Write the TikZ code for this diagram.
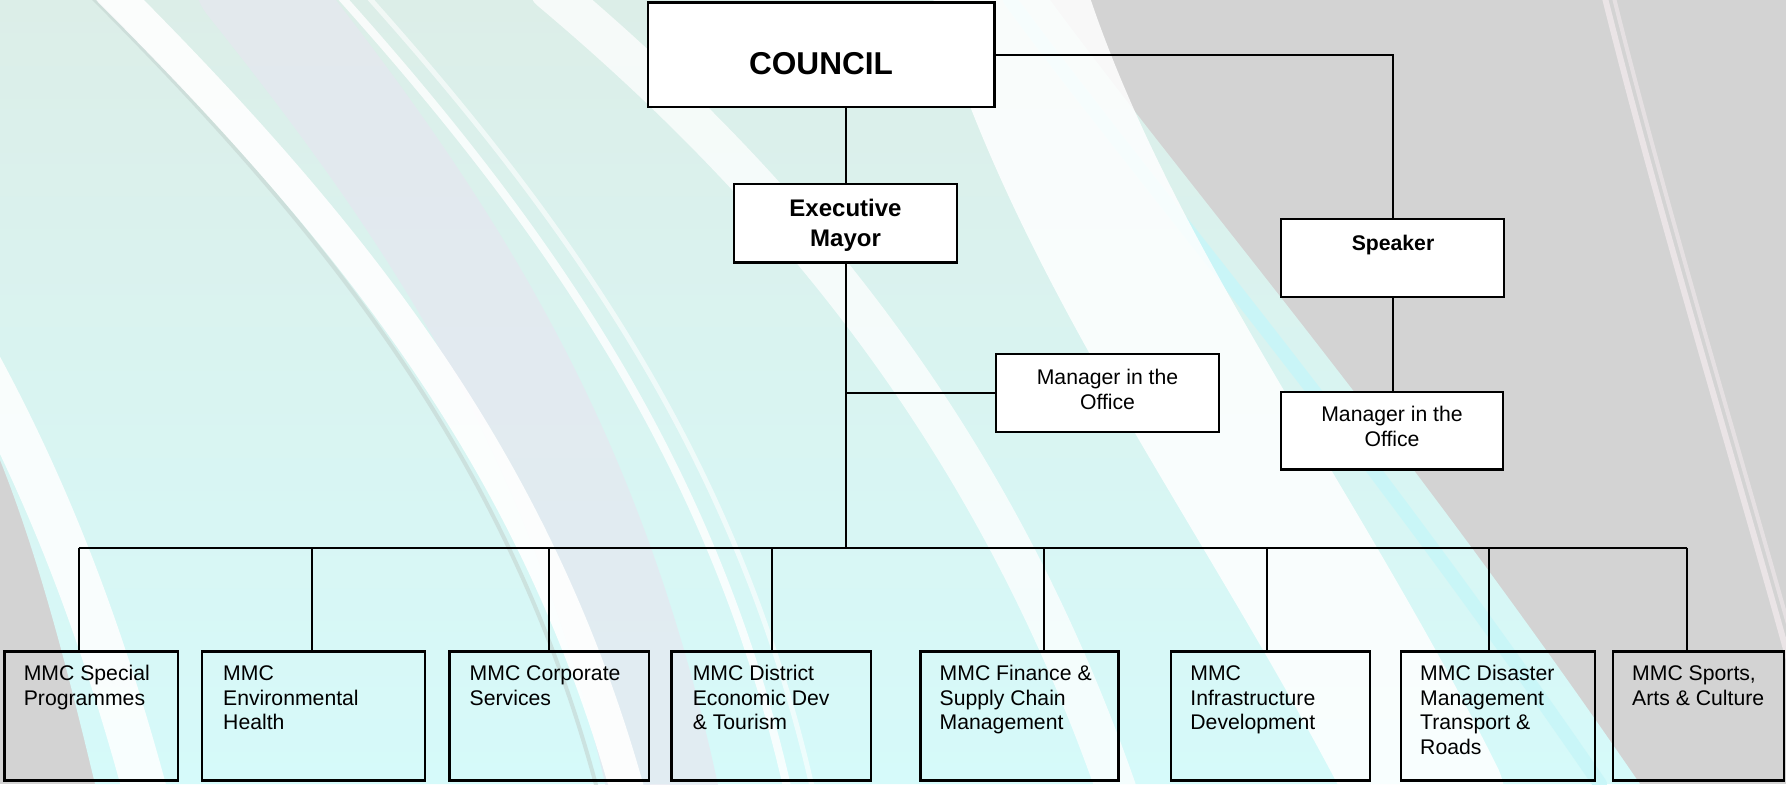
\documentclass[tikz,border=0pt]{standalone}
\usepackage{fontspec}
\setmainfont{Liberation Sans}
\definecolor{bggrey}{RGB}{211,211,211}
\definecolor{bgmint}{RGB}{220,238,232}
\definecolor{bgcyan}{RGB}{214,250,250}
\definecolor{bgbright}{RGB}{200,246,248}
\definecolor{bglav}{RGB}{230,231,240}
\definecolor{bgshadow}{RGB}{196,212,208}
\definecolor{bgpink}{RGB}{234,228,230}
\begin{document}
\begin{tikzpicture}[x=0.5pt,y=-0.5pt,
  topbox/.style={draw=black, line width=1.2pt, fill=white, inner sep=0pt},
  unitbox/.style={draw=black, line width=1.2pt, inner sep=0pt, minimum height=64.5pt},
  link/.style={draw=black, line width=1pt},
  bigtext/.style={anchor=base, inner sep=0pt, font=\fontsize{15.8}{19}\selectfont\bfseries},
  headtext/.style={anchor=base, inner sep=0pt, align=center, font=\fontsize{12}{15}\selectfont\bfseries},
  boldtext/.style={anchor=base, inner sep=0pt, align=center, font=\fontsize{10.6}{12.5}\selectfont\bfseries},
  midtext/.style={anchor=base, inner sep=0pt, align=center, font=\fontsize{10.6}{12.5}\selectfont},
  unittext/.style={anchor=north west, inner sep=0pt, align=left, font=\fontsize{10.6}{12.25}\selectfont},
  streak/.style={line cap=round, line join=round}
]
\useasboundingbox (0,0) rectangle (1786,784);

% ---------- background sweep ----------
\begin{scope}
  \clip (0,0) rectangle (1786,784);
  \fill[bggrey] (0,0) rectangle (1786,784);
  \shade[top color=bgmint, bottom color=bgcyan]
    (0,0) -- (1050,0) .. controls (1190,190) and (1390,420) .. (1640,784)
    -- (95,784) .. controls (70,680) and (40,560) .. (0,460) -- cycle;
  % bright cyan edge of the sweep
  \draw[streak, bgbright, line width=7pt, opacity=0.9]
    (1010,0) .. controls (1150,190) and (1350,420) .. (1600,784);
  % lavender band
  \draw[streak, bglav, line width=55pt, opacity=0.7]
    (250,-20) .. controls (450,230) and (590,450) .. (665,800);
  % white streaks
  \draw[streak, white, line width=22pt, opacity=0.85]
    (-40,330) .. controls (40,470) and (100,620) .. (150,810);
  \draw[streak, bgshadow, line width=2pt, opacity=0.6]
    (85,-10) .. controls (335,240) and (515,470) .. (600,800);
  \draw[streak, white, line width=17pt, opacity=0.9]
    (110,-10) .. controls (360,240) and (540,470) .. (630,800);
  \draw[streak, white, line width=4pt, opacity=0.8]
    (335,-10) .. controls (560,240) and (720,480) .. (790,800);
  \draw[streak, white, line width=2.5pt, opacity=0.6]
    (362,-10) .. controls (587,240) and (745,480) .. (815,800);
  \draw[streak, white, line width=20pt, opacity=0.75]
    (550,-10) .. controls (800,200) and (1000,450) .. (1120,800);
  \draw[streak, white, line width=75pt, opacity=0.85]
    (1000,-40) .. controls (1080,250) and (1280,500) .. (1430,800);
  % faint lines on the grey side
  \draw[streak, bgpink, line width=3pt]
    (1603,-10) .. controls (1660,220) and (1740,480) .. (1800,700);
  \draw[streak, bgpink, line width=2pt, opacity=0.8]
    (1612,-10) .. controls (1669,220) and (1749,480) .. (1809,700);
\end{scope}

% ---------- upper tier ----------
\node[topbox, minimum width=173.4pt, minimum height=52.2pt] (council) at (821.2,54.5) {};
\node[bigtext] (councilT) at (821,74) {COUNCIL};

\node[topbox, minimum width=111.6pt, minimum height=39.3pt] (mayor) at (845.5,223) {};
\node[headtext] (mayorT) at (845.5,246) {Executive\\Mayor};

\node[topbox, minimum width=111.5pt, minimum height=39pt] (speaker) at (1392.5,258) {};
\node[boldtext] (speakerT) at (1393,250) {Speaker};

\node[topbox, minimum width=111.5pt, minimum height=39pt] (mgrA) at (1107.5,393) {};
\node[midtext] (mgrAT) at (1107.5,409) {Manager in the\\Office};

\node[topbox, minimum width=111.25pt, minimum height=38.7pt] (mgrB) at (1392,430.7) {};
\node[midtext] (mgrBT) at (1392,446.7) {Manager in the\\Office};

% ---------- unit boxes ----------
\node[unitbox, minimum width=86.7pt] (b1) at (91.3,716) {};
\node[unitbox, minimum width=111.5pt] (b2) at (313.5,716) {};
\node[unitbox, minimum width=99.6pt] (b3) at (549.1,716) {};
\node[unitbox, minimum width=99.7pt] (b4) at (771.3,716) {};
\node[unitbox, minimum width=99pt] (b5) at (1019.5,716) {};
\node[unitbox, minimum width=99.4pt] (b6) at (1270.6,716) {};
\node[unitbox, minimum width=97pt] (b7) at (1498,716) {};
\node[unitbox, minimum width=85.5pt] (b8) at (1698.5,716) {};

\node[unittext] (t1) at ([xshift=10pt,yshift=-6.4pt]b1.north west) {\strut MMC Special\\Programmes};
\node[unittext] (t2) at ([xshift=11pt,yshift=-6.4pt]b2.north west) {\strut MMC\\Environmental\\Health};
\node[unittext] (t3) at ([xshift=10.5pt,yshift=-6.4pt]b3.north west) {\strut MMC Corporate\\Services};
\node[unittext] (t4) at ([xshift=11pt,yshift=-6.4pt]b4.north west) {\strut MMC District\\Economic Dev\\\& Tourism};
\node[unittext] (t5) at ([xshift=10pt,yshift=-6.4pt]b5.north west) {\strut MMC Finance \&\\Supply Chain\\Management};
\node[unittext] (t6) at ([xshift=10pt,yshift=-6.4pt]b6.north west) {\strut MMC\\Infrastructure\\Development};
\node[unittext] (t7) at ([xshift=10pt,yshift=-6.4pt]b7.north west) {\strut MMC Disaster\\Management\\Transport \&\\Roads};
\node[unittext] (t8) at ([xshift=10pt,yshift=-6.4pt]b8.north west) {\strut MMC Sports,\\Arts \& Culture};

% ---------- connectors ----------
\coordinate (d1) at (78.6,547.5);
\coordinate (d2) at (311.7,547.5);
\coordinate (d3) at (549,547.5);
\coordinate (d4) at (772,547.5);
\coordinate (d5) at (1044,547.5);
\coordinate (d6) at (1266.6,547.5);
\coordinate (d7) at (1488.8,547.5);
\coordinate (d8) at (1687.4,547.5);

\draw[link] (mayor.north) -- (mayor.north |- council.south);
\draw[link] (council.east) -| (speaker.north);
\draw[link] (speaker.south) -- (speaker.south |- mgrB.north);
\draw[link] (mayor.south) -- (mayor.south |- d1);
\draw[link] (mgrA.west) -- (mgrA.west -| mayor.south);
\draw[link] (d1) -- (d8);
\foreach \i in {1,...,8} {
  \draw[link] (d\i) -- (d\i |- b\i.north);
}
\end{tikzpicture}
\end{document}
